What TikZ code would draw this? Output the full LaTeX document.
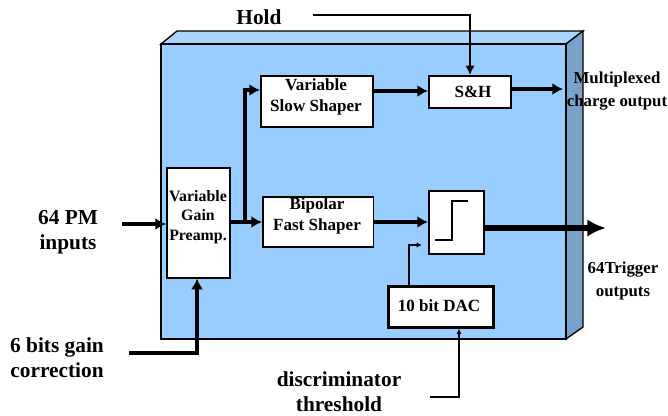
\documentclass[tikz,border=0pt]{standalone}
\usepackage{fontspec}
\setmainfont{Liberation Serif}
\usetikzlibrary{arrows.meta}

\definecolor{frontblue}{RGB}{153,204,255}
\definecolor{topblue}{RGB}{170,213,255}
\definecolor{sideblue}{RGB}{122,163,204}

\tikzset{
  blockbox/.style = {rectangle, draw = black, fill = white, line width = 1.2pt,
      inner sep = 0pt, align = center, anchor = north west},
  outerlabel/.style = {align = center, inner sep = 0pt,
      font = \bfseries\fontsize{16}{19}\selectfont},
  smalllabel/.style = {align = center, inner sep = 0pt,
      font = \bfseries\fontsize{12.8}{15.5}\selectfont},
  sidelabel/.style = {align = center, inner sep = 0pt,
      font = \bfseries\fontsize{12.6}{17}\selectfont},
  signal/.style = {draw = black, line width = 2.6pt, -{Latex[length=8pt,width=9pt]}},
  thinsignal/.style = {draw = black, line width = 1.5pt, -{Latex[length=7pt,width=7pt]}},
  tinysignal/.style = {draw = black, line width = 1.3pt, -{Latex[length=4pt,width=4pt]}},
  fatsignal/.style = {draw = black, line width = 4.5pt, -{Latex[length=14pt,width=13pt]}},
}

\begin{document}
\begin{tikzpicture}[x=0.75pt,y=-0.75pt]
\useasboundingbox (0,0) rectangle (668,415);

% housing
\draw[fill = topblue, line width = 1pt] (161,44) -- (177,31) -- (583,31) -- (566,44) -- cycle;
\draw[fill = sideblue, line width = 1pt] (566,44) -- (583,31) -- (583,327) -- (566,339) -- cycle;
\draw[fill = frontblue, line width = 1pt] (161,44) rectangle (566,339);

% blocks
\node[blockbox, minimum width = 47.25pt, minimum height = 82.5pt] (preamp) at (166,167) {};
\node[blockbox, minimum width = 84.25pt, minimum height = 38.25pt] (slow) at (260,75) {};
\node[blockbox, minimum width = 83pt, minimum height = 37.5pt] (fast) at (262,196) {};
\node[blockbox, minimum width = 61.5pt, minimum height = 24pt] (sh) at (428,75) {};
\node[blockbox, minimum width = 41.25pt, minimum height = 47.25pt] (comp) at (428,190) {};
\node[blockbox, line width = 2pt, minimum width = 79pt, minimum height = 30.75pt] (dac) at (387,285) {};

% block texts
\node[smalllabel, font = \bfseries\fontsize{11.9}{14.5}\selectfont] (preamptext) at (198,217) {Variable\\Gain\\Preamp.};
\node[smalllabel] (slowtext) at (316,97) {Variable\\Slow Shaper};
\node[smalllabel] (fasttext) at (317,216) {Bipolar\\Fast Shaper};
\node[smalllabel] (shtext) at (473,92) {S\&H};
\node[smalllabel] (dactext) at (439,306) {10 bit DAC};

% step symbol
\draw[line width = 1.5pt] (435,240) -- (452,240) -- (452,201) -- (468,201);

% free ends
\coordinate (holdend) at (313,15);
\coordinate (pmend) at (122,224);
\coordinate (gainend) at (129,353);
\coordinate (threshend) at (430,397);
\coordinate (branch) at (245,222);

% connectors
\draw[thinsignal] (holdend) -| (sh.north -| 470,0);
\draw[signal] (slow.east |- 0,91) -- (sh.west |- 0,91);
\draw[signal] (sh.east |- 0,89) -- (563,89);
\draw[signal] (pmend) -- (preamp.west |- pmend);
\draw[signal] (preamp.east |- branch) -- (fast.west |- branch);
\draw[signal] (branch) |- (slow.west |- 0,90);
\draw[signal] (fast.east |- 0,222) -- (comp.west |- 0,222);
\draw[signal] (gainend) -| (preamp.south -| 197,0);
\draw[fatsignal] (485,228) -- (606,228);
\draw[tinysignal] (dac.north -| 409,0) |- (422,245);
\draw[tinysignal] (threshend) -| (dac.south -| 459,0);

% outer labels
\node[outerlabel] (hold) at (259,17) {Hold};
\node[outerlabel] (pminputs) at (68,232) {64 PM\\inputs};
\node[outerlabel] (gainlabel) at (57,358) {6 bits gain\\correction};
\node[outerlabel] (threshlabel) at (339,392) {discriminator\\threshold};
\node[sidelabel] (muxlabel) at (617,91) {Multiplexed\\charge output};
\node[sidelabel] (triglabel) at (623,281) {64Trigger\\outputs};

\end{tikzpicture}
\end{document}
